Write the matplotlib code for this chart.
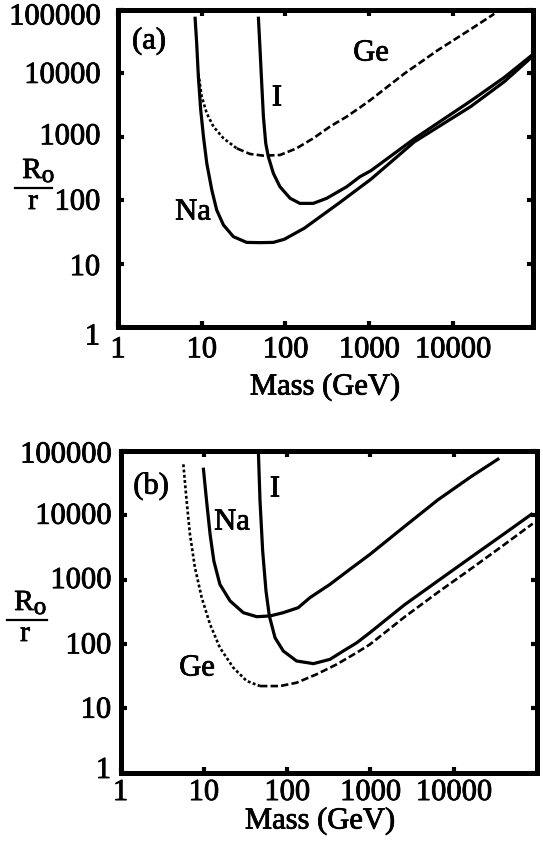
import matplotlib
matplotlib.use("Agg")
import matplotlib.pyplot as plt
import matplotlib.patheffects as pe
from matplotlib.lines import Line2D
from matplotlib.text import Text
from matplotlib.ticker import NullLocator, FixedLocator
from matplotlib.transforms import offset_copy

plt.rcParams['font.family'] = ['Liberation Serif', 'DejaVu Serif']

# ---------------- data ----------------
xticks = [1, 10, 100, 1000, 10000]
xtick_labels = ['1', '10', '100', '1000', '10000']
yticks = [1, 10, 100, 1000, 10000, 100000]
ytick_labels = ['1', '10', '100', '1000', '10000', '100000']

# panel (a)
na_a_mass = [8.32, 8.71, 9.12, 9.73, 10.5, 11.5, 13.2, 15.1, 18.2, 23.9, 34.4, 49.8, 71.6,
             97.1, 168, 422, 1050, 3470, 16500, 41200, 89900]
na_a_r = [78500, 29800, 8870, 2650, 1000, 381, 145, 70, 40.6, 26.6, 21.6, 21.4, 21.6,
          24.2, 36.1, 87.1, 214, 832, 3020, 7410, 18600]

i_a_mass = [47.5, 49.8, 52.1, 54.6, 58.2, 62.5, 71.8, 86.1, 114, 149, 215, 311, 540, 778,
            1050, 3470, 16500, 41200, 89900]
i_a_r = [78500, 23400, 6970, 2080, 789, 486, 265, 163, 107, 89.1, 89.1, 107, 163, 235,
         292, 933, 3700, 8650, 19800]

ge_a_mass = [9.12, 10, 11.5, 13.8, 18.2, 26.2, 37.8, 54.6, 86.1, 136, 215, 341, 540, 778,
             1050, 2630, 6610, 16500, 31300]
ge_a_r = [10000, 4300, 2340, 1450, 946, 658, 536, 504, 516, 658, 946, 1450, 2080, 2900,
          3850, 9900, 23200, 50100, 87100]

# panel (b)
na_b_mass = [9.86, 10.8, 11.9, 13.2, 15.6, 20.7, 29.8, 43.2, 62.4, 89.9, 136, 188, 327, 569,
             989, 2550, 6430, 16100, 35200]
na_b_r = [55100, 16700, 5060, 1950, 843, 465, 306, 265, 272, 306, 366, 524, 843, 1450,
          2470, 6650, 17300, 39800, 76900]

i_b_mass = [45.2, 47.3, 50.9, 55.8, 61.2, 71.6, 89.9, 130, 207, 327, 473, 685, 989,
            2550, 6430, 16100, 40500, 88700]
i_b_r = [99000, 16700, 2790, 665, 272, 125, 77.6, 54.2, 49.3, 57.5, 77.6, 104, 150,
         403, 951, 2220, 5180, 10700]

ge_b_mass = [5.68, 6.22, 6.82, 7.83, 9.44, 11.9, 15.6, 22.6, 32.7, 47.3, 82.2, 130, 226, 394,
             685, 989, 2550, 6430, 16100, 40500, 88700]
ge_b_r = [62100, 16700, 5060, 1530, 524, 201, 87.3, 42.7, 26.5, 22.1, 22.1, 24.9, 33.7, 48.1,
          73.1, 98.4, 260, 631, 1470, 3500, 7410]

# ---------------- figure ----------------
W, H = 543, 841
FS = 22
fig = plt.figure(figsize=(W / 100, H / 100), dpi=100)


def fx(px):
    return px / W


def fy(py):
    return 1 - py / H


def make_axes(left, right, top, bottom):
    return fig.add_axes([fx(left), fy(bottom), fx(right) - fx(left), (bottom - top) / H])


def style_axes(ax, xmax, ylab_x, ylab_offsets, xpad):
    ax.set_xscale('log')
    ax.set_yscale('log')
    ax.set_xlim(1, xmax)
    ax.set_ylim(1, 100000)
    ax.xaxis.set_major_locator(FixedLocator(xticks))
    ax.yaxis.set_major_locator(FixedLocator(yticks))
    ax.xaxis.set_minor_locator(NullLocator())
    ax.yaxis.set_minor_locator(NullLocator())
    ax.set_xticklabels(xtick_labels)
    for s in ax.spines.values():
        s.set_linewidth(3.6)
    ax.tick_params(which='major', direction='in', length=4, width=3.0,
                   top=True, right=True, labelsize=FS, labelleft=False)
    ax.tick_params(axis='x', pad=xpad)
    # y tick labels as real text, aligned on the tick values
    for val, lab, off in zip(yticks, ytick_labels, ylab_offsets):
        tr = offset_copy(ax.get_yaxis_transform(), fig=fig, x=0, y=-off, units='dots')
        ax.text(ylab_x, val, lab, transform=tr, ha='right', va='center',
                fontsize=FS, clip_on=False)


LW = 2.3
GE_LW = 1.9
DOT = (0, (1.1, 0.9))
DASH = (0, (2.8, 1.2))
solid_kw = dict(color='black', lw=LW, solid_capstyle='butt', solid_joinstyle='round')

# ---------- panel (a) ----------
axa = make_axes(118, 532.7, 10, 327)
style_axes(axa, 90000, -0.0434, [10, 4, 2, 0, 2, 7], 6)
axa.plot(na_a_mass, na_a_r, **solid_kw)
axa.plot(i_a_mass, i_a_r, **solid_kw)
axa.plot(ge_a_mass[:6], ge_a_r[:6], color='black', lw=GE_LW, linestyle=DOT)
axa.plot(ge_a_mass[5:], ge_a_r[5:], color='black', lw=GE_LW, linestyle=DASH,
         dash_joinstyle='round')

# ---------- panel (b) ----------
axb = make_axes(120.5, 537, 451, 772.5)
style_axes(axb, 100000, -0.0228, [-2, 2, 2, 1, 1, 4], 4)
axb.plot(na_b_mass, na_b_r, **solid_kw)
axb.plot(i_b_mass, i_b_r, **solid_kw)
axb.plot(ge_b_mass[:10], ge_b_r[:10], color='black', lw=GE_LW, linestyle=DOT)
axb.plot(ge_b_mass[9:], ge_b_r[9:], color='black', lw=GE_LW, linestyle=DASH,
         dash_joinstyle='round')

# ---------- annotations ----------
def ftext(px, py, s, size=FS, **kw):
    fig.text(fx(px), fy(py), s, fontsize=size, ha='center', va='center', **kw)


# panel (a)
ftext(149, 41, '(a)')
ftext(193, 212, 'Na')
ftext(277, 98, 'I')
ftext(371, 53, 'Ge')
ftext(325, 387, 'Mass (GeV)')
# panel (b)
ftext(151, 486, '(b)')
ftext(232, 522, 'Na')
ftext(275, 489, 'I')
ftext(197, 668, 'Ge')
ftext(320, 821, 'Mass (GeV)')

# y axis label R_o / r
def frac_label(cx, liney, x0, x1):
    ftext(cx, liney - 17, 'R', size=21)
    ftext(cx + 16, liney - 12, 'o', size=18)
    fig.add_artist(Line2D([fx(x0), fx(x1)], [fy(liney), fy(liney)],
                          color='black', lw=1.6, transform=fig.transFigure))
    ftext(cx + 1, liney + 14, 'r', size=21)


frac_label(32, 188, 15, 52)
frac_label(24, 620, 7, 47)

# slightly heavier text, like the printed original
fig.canvas.draw()
for t in fig.findobj(Text):
    if t.get_text():
        t.set_path_effects([pe.withStroke(linewidth=0.6, foreground='black')])

fig.savefig('out.png', dpi=100)
